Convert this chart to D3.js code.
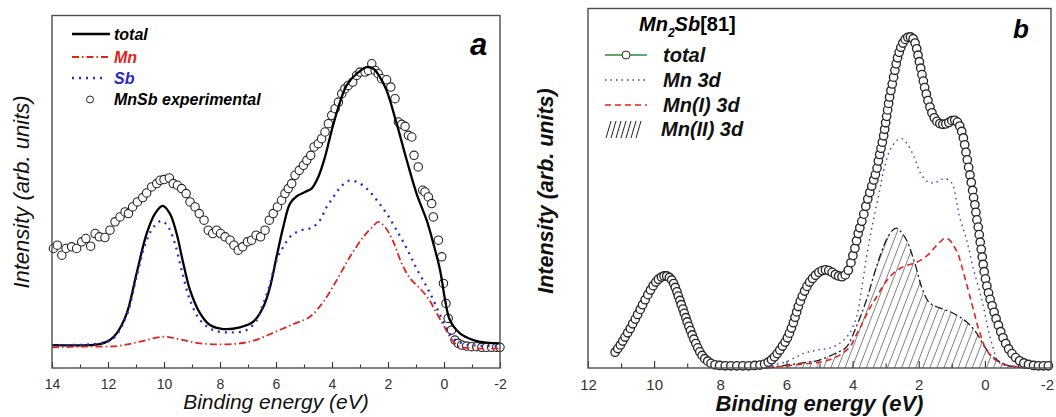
<!DOCTYPE html>
<html>
<head>
<meta charset="utf-8">
<script src="https://cdn.jsdelivr.net/npm/d3@7"></script>
<style>
  body { margin: 0; background: #fff; }
  text { font-family: "Liberation Sans", Arial, sans-serif; }
</style>
</head>
<body>
<div id="chart"></div>
<script>
// ---- data: [binding energy (eV), intensity (arb. units)] ----

// panel a : MnSb
var aMajorTicks = [14, 12, 10, 8, 6, 4, 2, 0, -2];
var aMinorTicks = [13, 11, 9, 7, 5, 3, 1, -1];

var aTotal = [[14.0,6.9],[12.29,7.2],[11.93,8.4],[11.69,10.4],[11.33,16.4],[10.98,28.4],[10.62,40.4],
  [10.32,46.4],[10.05,48.7],[9.79,46.4],[9.55,40.4],[9.31,31.4],[9.07,23.4],[8.71,16.4],[8.36,12.9],
  [7.88,11.7],[7.29,12.2],[6.81,13.9],[6.45,18.4],[6.21,24.4],[5.98,33.4],[5.74,42.4],[5.50,49.4],
  [5.26,51.6],[4.96,52.9],[4.73,53.9],[4.49,57.4],[4.25,63.4],[4.01,71.4],[3.77,78.4],[3.48,84.9],
  [3.12,88.4],[2.76,90.4],[2.52,89.9],[2.29,87.4],[2.05,83.4],[1.69,73.4],[1.33,62.4],[0.98,52.4],
  [0.62,44.4],[0.38,37.4],[0.14,29.4],[-0.04,20.4],[-0.21,14.4],[-0.57,10.4],[-1.05,8.4],[-1.52,7.6],[-2.0,7.4]];

var aMn = [[14.0,6.2],[12.88,6.4],[11.69,6.6],[10.86,7.9],[10.02,9.4],[9.43,8.6],[8.71,7.4],[7.52,7.2],
  [6.81,8.2],[6.10,10.6],[5.38,13.2],[4.79,15.4],[4.31,19.9],[3.83,26.4],[3.36,33.4],[2.88,39.4],
  [2.52,42.7],[2.35,43.9],[2.11,42.4],[1.81,37.9],[1.51,31.4],[1.21,26.9],[0.86,23.9],[0.56,20.9],
  [0.26,16.4],[0.02,12.9],[-0.21,9.4],[-0.51,6.6],[-1.05,5.9],[-2.0,5.9]];

var aSb = [[14.0,6.9],[12.29,7.4],[11.81,8.9],[11.33,15.9],[10.98,27.4],[10.62,38.4],[10.32,42.9],
  [10.08,44.2],[9.85,42.4],[9.61,37.4],[9.37,29.4],[9.07,20.4],[8.71,14.4],[8.24,11.4],[7.64,10.7],
  [7.05,11.4],[6.69,14.4],[6.45,19.4],[6.21,25.4],[5.98,32.4],[5.74,36.4],[5.44,39.9],[5.08,41.4],
  [4.73,42.1],[4.43,44.4],[4.19,48.4],[3.95,51.4],[3.71,54.2],[3.42,56.2],[3.12,55.9],[2.76,53.9],
  [2.40,50.4],[2.05,46.4],[1.69,41.4],[1.33,35.9],[0.98,29.9],[0.62,24.4],[0.38,20.4],[0.14,15.9],
  [-0.10,11.9],[-0.33,8.9],[-0.63,7.4],[-1.05,6.8],[-2.0,6.6]];

var aExperimental = [[13.95,35.9],[13.81,36.9],[13.65,33.9],[13.50,35.9],[13.30,36.4],[13.12,35.9],
  [12.94,37.9],[12.79,38.9],[12.62,36.6],[12.46,40.4],[12.31,39.4],[12.11,39.2],[11.93,41.4],[11.75,43.9],
  [11.57,45.4],[11.39,46.9],[11.27,46.4],[11.12,48.4],[10.95,49.9],[10.76,51.2],[10.62,52.6],[10.44,54.4],
  [10.26,55.4],[10.14,56.4],[10.00,56.6],[9.81,57.1],[9.67,55.4],[9.52,54.9],[9.37,53.9],[9.21,52.4],
  [9.07,49.9],[8.89,48.4],[8.74,46.4],[8.57,44.4],[8.42,41.4],[8.26,40.4],[8.12,41.4],[7.98,40.4],
  [7.82,39.4],[7.64,38.4],[7.50,36.9],[7.35,35.4],[7.19,36.4],[7.02,37.9],[6.87,38.4],[6.71,39.9],
  [6.55,39.4],[6.39,41.4],[6.24,44.4],[6.10,46.4],[5.95,48.4],[5.80,50.4],[5.68,52.4],[5.56,53.9],
  [5.44,55.4],[5.32,57.9],[5.17,59.4],[5.02,60.9],[4.90,62.4],[4.76,63.9],[4.64,66.4],[4.49,67.4],
  [4.37,68.9],[4.25,70.9],[4.13,73.4],[4.01,75.9],[3.89,77.9],[3.77,79.9],[3.65,82.4],[3.54,83.9],
  [3.42,84.9],[3.26,85.9],[3.12,87.9],[3.00,88.9],[2.82,88.9],[2.70,89.4],[2.58,91.4],[2.46,89.4],
  [2.35,88.4],[2.23,86.9],[2.05,86.6],[1.90,84.4],[1.75,80.9],[1.63,73.9],[1.51,73.2],[1.39,72.6],
  [1.27,69.9],[1.15,69.4],[1.07,63.9],[0.92,60.4],[0.76,53.4],[0.68,52.9],[0.56,51.4],[0.44,49.4],
  [0.38,45.4],[0.20,38.4],[0.08,33.4],[0.02,25.4],[-0.07,19.4],[-0.15,14.9],[-0.27,11.4],[-0.39,8.4],
  [-0.51,7.4],[-0.63,6.9],[-0.81,6.6],[-0.99,6.4],[-1.17,6.4],[-1.35,6.2],[-1.52,6.2],[-1.70,6.2],
  [-1.88,6.2],[-2.00,6.2]];

// panel b : Mn2Sb [81]
var bMajorTicks = [12, 10, 8, 6, 4, 2, 0, -2];
var bMinorTicks = [11, 9, 7, 5, 3, 1, -1];

var bTotal = [[11.18,4.4],[11.10,5.4],[11.02,6.4],[10.95,7.5],[10.88,8.6],[10.80,9.8],[10.72,11.0],
  [10.65,12.3],[10.57,13.6],[10.50,14.9],[10.42,16.3],[10.35,17.6],[10.27,19.0],[10.19,20.4],[10.11,21.7],
  [10.03,22.9],[9.95,23.9],[9.87,24.7],[9.78,25.3],[9.70,25.6],[9.62,25.6],[9.54,25.2],[9.47,24.5],
  [9.41,23.5],[9.36,22.4],[9.31,21.2],[9.27,20.0],[9.22,18.8],[9.18,17.6],[9.13,16.4],[9.09,15.2],
  [9.04,14.0],[9.00,12.8],[8.95,11.6],[8.90,10.4],[8.85,9.2],[8.80,8.0],[8.74,6.8],[8.68,5.6],[8.62,4.5],
  [8.55,3.5],[8.47,2.6],[8.38,1.9],[8.28,1.3],[8.16,0.9],[8.02,0.7],[7.85,0.6],[7.68,0.6],[7.50,0.6],
  [7.32,0.6],[7.14,0.6],[6.96,0.7],[6.80,0.8],[6.66,1.1],[6.55,1.6],[6.45,2.3],[6.36,3.1],[6.28,4.0],
  [6.20,5.0],[6.12,6.1],[6.04,7.2],[5.97,8.4],[5.91,9.7],[5.85,11.1],[5.79,12.6],[5.74,14.1],[5.69,15.6],
  [5.64,17.1],[5.58,18.6],[5.52,20.0],[5.45,21.4],[5.38,22.7],[5.30,23.9],[5.21,24.9],[5.12,25.8],
  [5.02,26.6],[4.92,27.1],[4.82,27.3],[4.72,27.1],[4.62,26.6],[4.52,26.0],[4.42,25.6],[4.32,25.4],
  [4.22,25.9],[4.13,27.2],[4.05,29.3],[3.99,31.3],[3.93,33.3],[3.88,35.4],[3.83,37.4],[3.78,39.0],
  [3.72,40.8],[3.66,42.8],[3.60,45.0],[3.54,47.0],[3.48,48.8],[3.42,50.6],[3.36,52.3],[3.31,53.8],
  [3.26,55.6],[3.22,57.6],[3.18,59.4],[3.14,61.1],[3.10,62.8],[3.06,64.6],[3.03,66.4],[3.00,68.2],
  [2.97,70.0],[2.94,71.8],[2.91,73.6],[2.88,75.4],[2.84,77.2],[2.80,79.0],[2.76,80.9],[2.72,82.8],
  [2.68,84.6],[2.64,86.3],[2.59,87.8],[2.54,89.2],[2.48,90.4],[2.41,91.4],[2.33,92.0],[2.25,92.1],
  [2.17,91.6],[2.11,90.4],[2.06,88.8],[2.02,87.0],[1.98,85.2],[1.94,83.4],[1.90,81.6],[1.86,79.8],
  [1.82,78.0],[1.77,76.2],[1.72,74.4],[1.66,72.6],[1.60,71.0],[1.53,69.6],[1.45,68.6],[1.36,68.0],
  [1.27,67.8],[1.18,67.9],[1.09,68.3],[1.00,68.8],[0.91,68.9],[0.83,68.4],[0.76,67.3],[0.70,65.8],
  [0.65,64.0],[0.61,62.1],[0.57,60.0],[0.53,57.9],[0.49,55.8],[0.45,53.7],[0.41,51.6],[0.37,49.4],
  [0.34,47.4],[0.30,45.4],[0.27,43.3],[0.24,41.2],[0.20,39.2],[0.17,37.1],[0.14,35.0],[0.11,33.0],
  [0.08,30.9],[0.05,28.8],[0.02,26.8],[-0.02,24.8],[-0.06,22.8],[-0.11,20.9],[-0.16,19.1],[-0.22,17.3],
  [-0.28,15.5],[-0.34,13.7],[-0.41,11.9],[-0.48,10.1],[-0.55,8.4],[-0.63,6.8],[-0.72,5.3],[-0.82,4.0],
  [-0.93,2.9],[-1.05,2.0],[-1.18,1.4],[-1.32,1.0],[-1.47,0.7],[-1.62,0.6],[-1.77,0.6],[-1.92,0.6]];

var bMn3d = [[6.61,0.4],[5.99,1.8],[5.47,4.1],[5.05,5.0],[4.61,5.8],[4.30,7.5],[4.09,9.7],[3.88,14.2],
  [3.73,21.7],[3.58,30.8],[3.39,40.3],[3.18,49.4],[3.08,54.1],[2.87,60.6],[2.66,63.3],[2.51,63.8],
  [2.35,62.4],[2.14,58.7],[1.94,54.1],[1.73,51.8],[1.52,51.5],[1.35,52.3],[1.21,52.7],[1.00,51.5],
  [0.86,46.5],[0.76,41.9],[0.55,35.6],[0.36,28.1],[0.09,18.9],[-0.06,12.5],[-0.21,6.9],[-0.45,1.4],
  [-0.90,0.3],[-1.50,0.1]];

var bMnI3d = [[6.61,0.0],[6.00,0.6],[5.50,1.1],[5.00,1.6],[4.49,3.1],[4.09,5.8],[3.90,9.0],[3.70,12.5],
  [3.50,16.3],[3.28,19.7],[3.08,22.8],[2.88,25.3],[2.68,27.0],[2.48,28.1],[2.27,28.8],[2.07,29.4],
  [1.87,30.4],[1.67,31.9],[1.51,33.6],[1.36,35.0],[1.21,36.1],[1.10,35.8],[1.01,35.0],[0.92,33.6],
  [0.82,31.9],[0.72,29.0],[0.61,25.3],[0.50,21.6],[0.40,18.1],[0.30,14.6],[0.21,11.4],[0.10,8.4],
  [0.00,5.8],[-0.12,4.1],[-0.24,2.8],[-0.45,1.5],[-0.66,0.8],[-1.00,0.3],[-1.26,0.0]];

var bMnII3d = [[6.61,0.0],[5.99,0.8],[5.37,1.6],[5.00,2.2],[4.49,4.2],[4.19,5.8],[3.89,11.4],[3.58,18.9],
  [3.28,28.1],[2.98,35.6],[2.79,38.3],[2.68,38.9],[2.58,38.3],[2.37,35.6],[2.12,29.2],[1.88,21.7],
  [1.67,18.1],[1.36,16.7],[0.97,15.3],[0.55,12.8],[0.25,9.7],[0.00,5.8],[-0.24,3.1],[-0.66,0.8],
  [-1.26,0.0]];


/*
 * SpectrumPanel - frame, bottom axis with inward ticks and axis titles
 */
SpectrumPanel = function(_svg, _opts){
    this.svg = _svg;
    this.opts = _opts;
    this.initVis();
};

SpectrumPanel.prototype.initVis = function(){
    var vis = this;
    var o = vis.opts;

    vis.x = d3.scaleLinear().domain(o.xDomain).range(o.xRange);
    vis.y = d3.scaleLinear().domain(o.yDomain).range(o.yRange);

    vis.g = vis.svg.append("g");

    // bottom axis, major and minor ticks point into the plot
    vis.g.append("g")
        .attr("class", "minor")
        .attr("transform", "translate(0," + o.yRange[0] + ")")
        .call(d3.axisBottom(vis.x).tickValues(o.minor).tickSize(-o.minorLen).tickFormat(""));

    vis.g.append("g")
        .attr("class", "major")
        .attr("transform", "translate(0," + o.yRange[0] + ")")
        .call(d3.axisBottom(vis.x).tickValues(o.major).tickSize(-o.majorLen).tickPadding(o.labelPad)
            .tickFormat(function(d){ return String(d); }));

    vis.g.selectAll(".domain").remove();
    vis.g.selectAll(".tick line").attr("stroke", "#333").attr("stroke-width", 1.1);
    vis.g.selectAll(".major .tick text")
        .attr("fill", "#333")
        .style("font-size", o.tickFont + "px");

    // keep the last label inside the window
    if (o.lastLabelShift) {
        vis.g.selectAll(".major .tick text")
            .filter(function(d){ return d === o.major[o.major.length - 1]; })
            .attr("dx", -o.lastLabelShift);
    }

    vis.plot = vis.g.append("g");

    // frame
    vis.g.append("rect")
        .attr("x", o.xRange[0])
        .attr("y", o.yRange[1])
        .attr("width", o.xRange[1] - o.xRange[0])
        .attr("height", o.yRange[0] - o.yRange[1])
        .attr("fill", "none")
        .attr("stroke", "#4d4d4d")
        .attr("stroke-width", 1.4);

    // axis titles
    vis.g.append("text")
        .attr("x", (o.xRange[0] + o.xRange[1]) / 2)
        .attr("y", o.xTitleY)
        .attr("text-anchor", "middle")
        .style("font-size", o.titleFont + "px")
        .style("font-style", "italic")
        .style("font-weight", o.titleWeight)
        .attr("fill", "#111")
        .text("Binding energy (eV)");

    vis.g.append("text")
        .attr("transform", "translate(" + o.yTitleX + "," + o.yTitleY + ") rotate(-90)")
        .attr("text-anchor", "middle")
        .style("font-size", o.yTitleFont + "px")
        .style("font-style", "italic")
        .style("font-weight", o.titleWeight)
        .attr("fill", "#111")
        .text("Intensity (arb. units)");

    // panel letter
    vis.g.append("text")
        .attr("x", o.letterX)
        .attr("y", o.letterY)
        .style("font-size", o.letterFont + "px")
        .style("font-style", "italic")
        .style("font-weight", "bold")
        .attr("fill", "#000")
        .text(o.letter);
};

SpectrumPanel.prototype.line = function(data){
    var vis = this;
    return d3.line()
        .x(function(d){ return vis.x(d[0]); })
        .y(function(d){ return vis.y(d[1]); })
        .curve(d3.curveCatmullRom.alpha(0.5))(data);
};

SpectrumPanel.prototype.addCircles = function(data, r, sw){
    var vis = this;
    vis.plot.append("g").selectAll("circle")
        .data(data)
        .enter().append("circle")
        .attr("cx", function(d){ return vis.x(d[0]); })
        .attr("cy", function(d){ return vis.y(d[1]); })
        .attr("r", r)
        .attr("fill", "#fff")
        .attr("stroke", "#262626")
        .attr("stroke-width", sw);
};

SpectrumPanel.prototype.addLine = function(data, color, width, dash){
    var vis = this;
    vis.plot.append("path")
        .attr("d", vis.line(data))
        .attr("fill", "none")
        .attr("stroke", color)
        .attr("stroke-width", width)
        .attr("stroke-dasharray", dash)
        .attr("stroke-linejoin", "round");
};


var svg = d3.select("#chart").append("svg")
    .attr("width", 1056)
    .attr("height", 417)
    .style("background", "#fff");

var defs = svg.append("defs");
var hatch = defs.append("pattern")
    .attr("id", "hatch")
    .attr("patternUnits", "userSpaceOnUse")
    .attr("width", 6.6)
    .attr("height", 6.6)
    .attr("patternTransform", "rotate(21)");
hatch.append("line")
    .attr("x1", 3.3).attr("y1", 0).attr("x2", 3.3).attr("y2", 6.6)
    .attr("stroke", "#555").attr("stroke-width", 0.7);

var red = "#e0241e", blue = "#2a2ac8";

// ---------- panel a ----------
var panelA = new SpectrumPanel(svg, {
    xDomain: [14, -2], xRange: [52, 500],
    yDomain: [0, 105.9], yRange: [368, 15.5],
    major: aMajorTicks, minor: aMinorTicks, majorLen: 6, minorLen: 3.5, labelPad: 11, tickFont: 14,
    titleFont: 21, yTitleFont: 22, titleWeight: "normal",
    xTitleY: 409, yTitleX: 29, yTitleY: 192,
    letter: "a", letterX: 470, letterY: 55, letterFont: 31
});

panelA.addCircles(aExperimental, 4.2, 1.1);
panelA.addLine(aTotal, "#000", 2.3, null);
panelA.addLine(aMn, red, 1.8, "7,3,1.5,3");
panelA.addLine(aSb, blue, 2.3, "2,5");

var legA = svg.append("g").style("font-size", "16px").style("font-weight", "bold").style("font-style", "italic");
var legAItems = [
    { label: "total", color: "#000", textColor: "#000", width: 2.3, dash: null, y: 34 },
    { label: "Mn", color: red, textColor: red, width: 1.8, dash: "7,3,1.5,3", y: 57 },
    { label: "Sb", color: blue, textColor: blue, width: 2.3, dash: "2,5", y: 78 }
];
legAItems.forEach(function(d){
    legA.append("line")
        .attr("x1", 72).attr("x2", d.dash === "2,5" ? 105 : 110)
        .attr("y1", d.y).attr("y2", d.y)
        .attr("stroke", d.color).attr("stroke-width", d.width)
        .attr("stroke-dasharray", d.dash);
    legA.append("text").attr("x", 114).attr("y", d.y + 6).attr("fill", d.textColor).text(d.label);
});
legA.append("circle").attr("cx", 90).attr("cy", 99.5).attr("r", 3.5)
    .attr("fill", "#fff").attr("stroke", "#2b2b2b").attr("stroke-width", 1);
legA.append("text").attr("x", 114).attr("y", 105).attr("fill", "#000").text("MnSb experimental");

// ---------- panel b ----------
var panelB = new SpectrumPanel(svg, {
    xDomain: [12, -2], xRange: [588, 1051],
    yDomain: [0, 100], yRange: [368, 8.5],
    major: bMajorTicks, minor: bMinorTicks, majorLen: 7, minorLen: 4.5, labelPad: 11, tickFont: 15,
    titleFont: 22, yTitleFont: 21.5, titleWeight: "bold",
    xTitleY: 411, yTitleX: 553, yTitleY: 191,
    letter: "b", letterX: 1013, letterY: 38, letterFont: 26,
    lastLabelShift: 4
});

panelB.addCircles(bTotal, 4.2, 1.35);

panelB.plot.append("path")
    .attr("d", d3.area()
        .x(function(d){ return panelB.x(d[0]); })
        .y0(panelB.y(0))
        .y1(function(d){ return panelB.y(d[1]); })
        .curve(d3.curveCatmullRom.alpha(0.5))(bMnII3d))
    .attr("fill", "url(#hatch)");

panelB.addLine(bMnII3d, "#1a1a1a", 1.3, "8,3,2,3");
panelB.addLine(bMnI3d, red, 1.6, "6,4");
panelB.addLine(bMn3d, "#3838c8", 1.4, "1.5,4");

var legB = svg.append("g").style("font-weight", "bold").style("font-style", "italic");
var title = legB.append("text").attr("x", 639).attr("y", 31).style("font-size", "20px").attr("fill", "#000");
title.append("tspan").text("Mn");
title.append("tspan").attr("dy", 6).style("font-size", "12px").text("2");
title.append("tspan").attr("dy", -6).text("Sb");
title.append("tspan").style("font-style", "normal").text("[81]");

legB.append("line").attr("x1", 605).attr("x2", 647).attr("y1", 55).attr("y2", 55)
    .attr("stroke", "#2e8b3a").attr("stroke-width", 1.3);
legB.append("circle").attr("cx", 626).attr("cy", 55).attr("r", 4)
    .attr("fill", "#fff").attr("stroke", "#2b2b2b").attr("stroke-width", 1);
legB.append("line").attr("x1", 605).attr("x2", 647).attr("y1", 80).attr("y2", 80)
    .attr("stroke", "#3838c8").attr("stroke-width", 1.4).attr("stroke-dasharray", "1.5,4");
legB.append("line").attr("x1", 605).attr("x2", 647).attr("y1", 105).attr("y2", 105)
    .attr("stroke", red).attr("stroke-width", 1.6).attr("stroke-dasharray", "6,4");
legB.append("g").selectAll("line")
    .data(d3.range(7))
    .enter().append("line")
    .attr("x1", function(i){ return 606 + i * 5; })
    .attr("x2", function(i){ return 611 + i * 5; })
    .attr("y1", 138).attr("y2", 121)
    .attr("stroke", "#222").attr("stroke-width", 1);

var legBLabels = [["total", 663, 62], ["Mn 3d", 663, 87], ["Mn(I) 3d", 663, 112], ["Mn(II) 3d", 661, 136]];
legB.selectAll("text.lab")
    .data(legBLabels)
    .enter().append("text")
    .attr("class", "lab")
    .attr("x", function(d){ return d[1]; })
    .attr("y", function(d){ return d[2]; })
    .style("font-size", "20px")
    .attr("fill", "#111")
    .text(function(d){ return d[0]; });
</script>
</body>
</html>
